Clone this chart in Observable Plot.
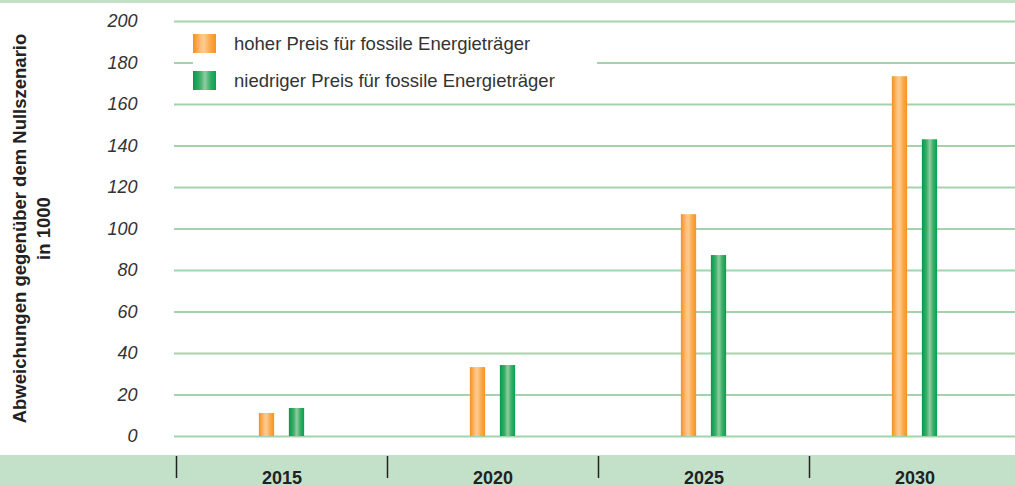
<!DOCTYPE html>
<html><head><meta charset="utf-8">
<script src="https://cdn.jsdelivr.net/npm/d3@7"></script>
<script src="https://cdn.jsdelivr.net/npm/@observablehq/plot@0.6"></script>
<style>
body{margin:0;background:#fff;}
#chart svg{display:block;}
.yaxis text{font-style:italic;}
</style>
</head><body><div id="chart"></div>
<script>
const years = ["2015", "2020", "2025", "2030"];
const seriesNames = ["hoher Preis für fossile Energieträger", "niedriger Preis für fossile Energieträger"];
const highValues = [11.1, 33.2, 106.9, 173.4];
const lowValues = [13.5, 34.2, 87.2, 143.0];
const yTicks = [0, 20, 40, 60, 80, 100, 120, 140, 160, 180, 200];
const yTitle = ["Abweichungen gegenüber dem Nullszenario", "in 1000"];

const highData = years.map((y, i) => ({year: y, value: highValues[i]}));
const lowData = years.map((y, i) => ({year: y, value: lowValues[i]}));

const FONT = "'Liberation Sans', Arial, Helvetica, sans-serif";
const W = 1015, H = 485;
const bandW = (1021 - 174) / years.length;
const barW = 16;
const inset = (bandW - barW) / 2;

// background bands + gradient defs
function background(index, scales, values, dim) {
  const g = d3.create("svg:g");
  const defs = g.append("defs");
  const og = defs.append("linearGradient").attr("id", "gradOrange").attr("x1", "0").attr("x2", "1").attr("y1", "0").attr("y2", "0");
  [[0, "#f4901c"], [0.38, "#fcc586"], [0.5, "#fdc88c"], [0.75, "#f9a94a"], [1, "#f7931d"]].forEach(([o, c]) => og.append("stop").attr("offset", o).attr("stop-color", c));
  const gg = defs.append("linearGradient").attr("id", "gradGreen").attr("x1", "0").attr("x2", "1").attr("y1", "0").attr("y2", "0");
  [[0, "#009a4c"], [0.3, "#3aae68"], [0.52, "#8fcda0"], [0.75, "#3aae68"], [1, "#00a250"]].forEach(([o, c]) => gg.append("stop").attr("offset", o).attr("stop-color", c));
  g.append("rect").attr("x", 0).attr("y", 0).attr("width", dim.width).attr("height", 3).attr("fill", "#c3e1c9");
  g.append("rect").attr("x", 0).attr("y", 455).attr("width", dim.width).attr("height", dim.height - 455).attr("fill", "#c3e1c9");
  return g.node();
}

// separators in the bottom band at the category boundaries
function separators(index, scales, values, dim) {
  const g = d3.create("svg:g");
  years.forEach(y => {
    const x = Math.round(scales.x(y)) + 0.5;
    g.append("line").attr("x1", x).attr("x2", x).attr("y1", 456).attr("y2", 478)
      .attr("stroke", "#222").attr("stroke-width", 1.5);
  });
  return g.node();
}

// legend box
function legend() {
  const g = d3.create("svg:g");
  g.append("rect").attr("x", 193).attr("y", 25).attr("width", 404).attr("height", 75).attr("fill", "#fff");
  const fills = ["url(#gradOrange)", "url(#gradGreen)"];
  const ys = [34, 71];
  seriesNames.forEach((name, i) => {
    g.append("rect").attr("x", 193).attr("y", ys[i]).attr("width", 23).attr("height", 19).attr("fill", fills[i]);
    g.append("text").attr("x", 234).attr("y", ys[i] + 16).text(name)
      .style("font-family", FONT).style("font-size", "18.5px").attr("fill", "#333").attr("text-anchor", "start");
  });
  return g.node();
}

// y axis title
function yTitleMark() {
  const g = d3.create("svg:g");
  const t = g.append("text").attr("transform", "translate(0,228.5) rotate(-90)")
    .style("font-family", FONT).style("font-size", "18.5px").style("font-weight", "bold")
    .attr("fill", "#222").attr("text-anchor", "middle");
  t.append("tspan").attr("x", 0).attr("y", 26).text(yTitle[0]);
  t.append("tspan").attr("x", 0).attr("y", 50).text(yTitle[1]);
  return g.node();
}

const chart = Plot.plot({
  width: W,
  height: H,
  marginLeft: 174,
  marginRight: 0,
  marginTop: 21,
  marginBottom: 49,
  style: {fontFamily: FONT, background: "transparent", overflow: "visible"},
  x: {type: "band", domain: years, range: [174, 1021], padding: 0},
  y: {domain: [0, 200]},
  marks: [
    background,
    Plot.gridY(yTicks, {stroke: "#a3d3ad", strokeOpacity: 1, strokeWidth: 2}),
    legend,
    Plot.barY(highData, {x: "year", y: "value", fill: "url(#gradOrange)", insetLeft: inset, insetRight: inset, dx: -15}),
    Plot.barY(lowData, {x: "year", y: "value", fill: "url(#gradGreen)", insetLeft: inset, insetRight: inset, dx: 15}),
    Plot.axisY(yTicks, {tickSize: 0, tickPadding: 37, fontSize: 18, fontStyle: "italic", fill: "#333", label: null, className: "yaxis"}),
    Plot.axisX({tickSize: 0, tickPadding: 35, fontSize: 18, fontWeight: "bold", fill: "#222", label: null}),
    separators,
    yTitleMark
  ]
});
document.getElementById("chart").appendChild(chart);
</script>
</body></html>
